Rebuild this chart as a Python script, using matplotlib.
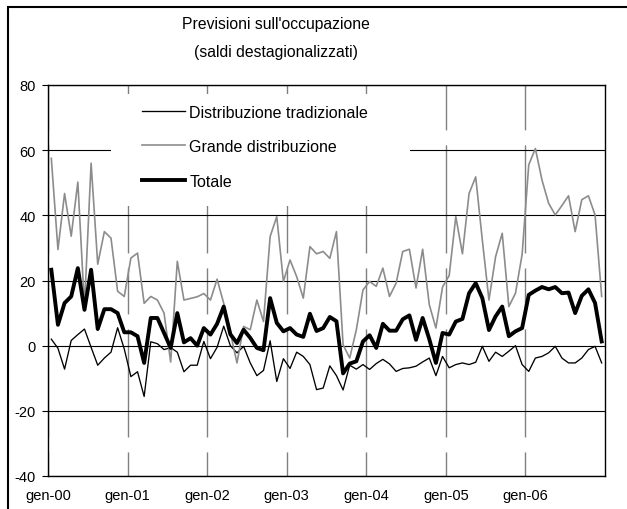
import numpy as np
import matplotlib
matplotlib.use("Agg")
import matplotlib.pyplot as plt
from matplotlib import font_manager
from matplotlib.patches import Rectangle

# ---- data (monthly, gen-2000 .. dic-2006) ----
tick_labels = ["gen-00", "gen-01", "gen-02", "gen-03", "gen-04", "gen-05", "gen-06"]
series_names = ["Distribuzione tradizionale", "Grande distribuzione", "Totale"]

tradizionale = [
    2, -0.8, -7.2, 1.6, 3.4, 5.1, -0.5, -6, -3.8, -2, 5.5, -1,
    -9.5, -8, -15.6, 1.2, 0.6, -1.2, -0.6, -2, -8, -6, -6, 1.3,
    -4, -0.5, 6, 0, -2.2, -0.2, -5.3, -9.2, -7.6, 1.5, -11, -4,
    -7, -2, -3.3, -5.8, -13.5, -13, -6.2, -9.2, -13.6, -6, -7.2, -5.8,
    -7.3, -5.5, -4.2, -5.6, -7.9, -7, -6.8, -6.3, -5, -3.8, -9.2, -3.3,
    -6.8, -5.8, -5.3, -5.8, -5.1, -0.2, -4.8, -2, -3.3, -1.7, 0, -5.8,
    -7.9, -3.8, -3.3, -2.2, -0.2, -3.8, -5.3, -5.3, -3.8, -1.2, -0.2, -5.3,
]
grande = [
    57.5, 29.5, 46.7, 33.6, 50.2, 12, 56, 25, 35, 33, 16.7, 15.1,
    26.9, 28.4, 13, 15.1, 14, 10, -5, 25.9, 14, 14.5, 15, 16,
    14, 20.4, 13, 4, -5.3, 5.9, 4.9, 14, 7.4, 33.5, 39.6, 19.7,
    26.3, 21.2, 14.6, 30.4, 28.2, 28.9, 26.8, 35, 0.3, -3.8, 4.9, 17.1,
    19.7, 18.2, 23.8, 15.1, 19.2, 28.9, 29.6, 17.7, 29.6, 12.6, 5.4, 18,
    21.5, 39.6, 28.2, 46.7, 51.8, 32.4, 14, 27.3, 34.5, 12, 16.1, 28,
    55.5, 60.5, 50.8, 43.7, 40.1, 43, 46, 35, 44.8, 46, 40.1, 15.1,
]
totale = [
    23.3, 6.4, 13.1, 15.1, 23.8, 11, 23.3, 5.1, 11.2, 11.2, 10, 4.1,
    4.1, 2.9, -5.3, 8.5, 8.5, 3.9, -0.7, 10, 1, 2.3, 0, 5.4,
    3.4, 6.7, 12, 3.5, 0.8, 4.9, 2.4, -0.7, -1.4, 14.6, 7, 4.4,
    5.4, 3.4, 2.7, 9.8, 4.5, 5.4, 8.8, 7.5, -8.5, -5.5, -4.8, 1.3,
    3.2, -0.7, 6.7, 4.6, 4.6, 8.1, 9.3, 1.8, 8.5, 2, -5.3, 3.9,
    3.4, 7.4, 8.2, 16.1, 19.2, 14.6, 4.8, 9, 12, 2.9, 4.4, 5.4,
    15.6, 16.9, 18, 17.3, 18, 16.1, 16.3, 10, 15.3, 17.3, 13.1, 1.3,
]
y_ticks = [-40, -20, 0, 20, 40, 60, 80]

# ---- fonts ----
available = {f.name for f in font_manager.fontManager.ttflist}
plt.rcParams["font.family"] = ["Liberation Sans", "DejaVu Sans"]
plt.rcParams["lines.scale_dashes"] = False
if "Liberation Sans Narrow" in available:
    title_family = ["Liberation Sans Narrow", "Liberation Sans", "DejaVu Sans"]
    title_size = 13
else:
    title_family = ["Liberation Sans", "DejaVu Sans"]
    title_size = 11.3

W, H = 627, 510
fig = plt.figure(figsize=(W / 100, H / 100), dpi=100)

# outer frame (left/top visible)
fig.patches.append(Rectangle((8 / W, -0.1), 1.2, 1 - 8 / H + 0.1, transform=fig.transFigure,
                             fill=False, edgecolor="black", linewidth=1.5))

ax = fig.add_axes([48 / W, 1 - 477 / H, (605 - 48) / W, (477 - 86) / H])
x = np.arange(len(totale))

ax.plot(x, tradizionale, color="black", lw=0.95, label=series_names[0], zorder=3)
ax.plot(x, grande, color="#8c8c8c", lw=1.2, label=series_names[1], zorder=3)
ax.plot(x, totale, color="black", lw=2.8, label=series_names[2], zorder=4)

ax.set_xlim(-0.5, len(totale) - 0.5)
ax.set_ylim(-40, 80)
ax.set_yticks(y_ticks)
ax.set_yticklabels([str(v) for v in y_ticks])
ax.set_xticks([-0.5 + 12 * k for k in range(len(tick_labels))])
ax.set_xticklabels(tick_labels)

ax.set_axisbelow(True)
ax.grid(axis="y", color="black", lw=0.8)
ax.grid(axis="x", color="#808080", lw=1.0,
        linestyle=(15.8, (33.1, 10.8, 77.8, 10.8)))

ax.tick_params(axis="y", direction="out", length=4, width=0.8, pad=5, labelsize=10.5)
ax.tick_params(axis="x", length=0, pad=9, labelsize=10.5)
for s in ax.spines.values():
    s.set_linewidth(1.0)
    s.set_color("black")

# white legend area covering the gridlines
ax.add_patch(Rectangle((0.113, 0.6905), 0.537, 0.2865, transform=ax.transAxes,
                       facecolor="white", edgecolor="none", zorder=1))
ax.legend(loc="upper left", bbox_to_anchor=(0.168, 0.950), frameon=False,
          fontsize=11.5, handlelength=2.75, handletextpad=0.25, labelspacing=1.22,
          borderaxespad=0, borderpad=0)

fig.text(276 / W, 1 - 24 / H, "Previsioni sull'occupazione", ha="center", va="center",
         fontsize=title_size, family=title_family)
fig.text(276 / W, 1 - 52 / H, "(saldi destagionalizzati)", ha="center", va="center",
         fontsize=title_size, family=title_family)

fig.savefig("out.png", dpi=100)
